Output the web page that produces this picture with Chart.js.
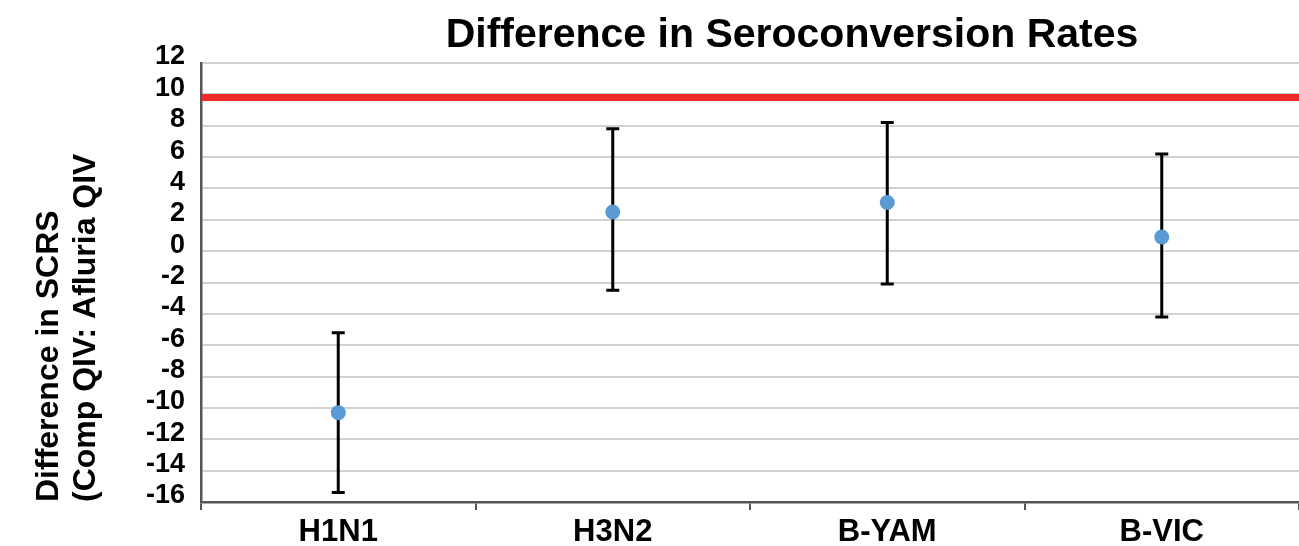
<!DOCTYPE html>
<html>
<head>
<meta charset="utf-8">
<script src="https://cdn.jsdelivr.net/npm/chart.js@4/dist/chart.umd.min.js"></script>
<style>
  html, body { margin: 0; padding: 0; background: #fff; overflow: hidden; }
  #wrap { position: relative; width: 1299px; height: 546px; }
  #title {
    position: absolute; top: 13px; left: 792px; transform: translateX(-50%);
    font: bold 41px "Liberation Sans", Arial, sans-serif; line-height: 40px;
    color: #000; white-space: nowrap;
  }
  canvas { position: absolute; left: 0; top: 0; }
</style>
</head>
<body>
<div id="wrap">
  <canvas id="c" width="1299" height="546"></canvas>
  <div id="title">Difference in Seroconversion Rates</div>
</div>
<script>
const categories = ['H1N1', 'H3N2', 'B-YAM', 'B-VIC'];
const differences = [-10.3, 2.5, 3.1, 0.9];
const lowerBounds = [-15.4, -2.5, -2.1, -4.2];
const upperBounds = [-5.2, 7.8, 8.2, 6.2];
const referenceLine = 9.8;
const yTickMin = -16;
const yTickMax = 12;
const yTickStep = 2;
const yTitleLines = ['Difference in SCRS', '(Comp QIV: Afluria QIV'];

const overlays = {
  id: 'overlays',
  beforeDatasetsDraw(chart) {
    const { ctx, chartArea, scales: { x, y } } = chart;
    ctx.save();
    // reference margin line
    const ry = y.getPixelForValue(referenceLine);
    ctx.strokeStyle = '#f02a2a';
    ctx.lineWidth = 7;
    ctx.beginPath();
    ctx.moveTo(chartArea.left + 1, ry);
    ctx.lineTo(chartArea.right, ry);
    ctx.stroke();
    // error bars
    ctx.strokeStyle = '#000';
    ctx.lineWidth = 3;
    const cap = 6.5;
    categories.forEach((c, i) => {
      const px = x.getPixelForValue(i);
      const pt = y.getPixelForValue(upperBounds[i]);
      const pb = y.getPixelForValue(lowerBounds[i]);
      ctx.beginPath();
      ctx.moveTo(px, pt); ctx.lineTo(px, pb);
      ctx.moveTo(px - cap, pt); ctx.lineTo(px + cap, pt);
      ctx.moveTo(px - cap, pb); ctx.lineTo(px + cap, pb);
      ctx.stroke();
    });
    ctx.restore();
  }
};

new Chart(document.getElementById('c'), {
  type: 'line',
  data: {
    labels: categories,
    datasets: [{
      data: differences,
      showLine: false,
      pointRadius: 7.5,
      pointHoverRadius: 7.5,
      pointBackgroundColor: '#5b9bd5',
      pointBorderColor: '#5b9bd5',
      pointBorderWidth: 0
    }]
  },
  options: {
    responsive: false,
    animation: false,
    layout: { autoPadding: false, padding: { top: 63, right: 0, left: 0, bottom: 0 } },
    plugins: {
      legend: { display: false },
      tooltip: { enabled: false },
      title: { display: false }
    },
    scales: {
      x: {
        offset: true,
        grid: {
          offset: true,
          drawOnChartArea: false,
          drawTicks: true,
          tickLength: 8,
          color: '#555',
          lineWidth: 2
        },
        border: { display: true, color: '#555', width: 2.5 },
        ticks: {
          color: '#000',
          padding: 4,
          font: { family: '"Liberation Sans", Arial, sans-serif', size: 31, weight: 'bold' }
        },
        afterFit(scale) { scale.height = 44; scale.paddingLeft = 0; scale.paddingRight = 0; }
      },
      y: {
        min: yTickMin,
        max: yTickMax,
        grid: { color: '#d2d2d2', lineWidth: 2, drawTicks: false },
        border: { display: true, color: '#555', width: 2.5 },
        ticks: {
          stepSize: yTickStep,
          autoSkip: false,
          color: '#000',
          padding: 16,
          labelOffset: -6,
          font: { family: '"Liberation Sans", Arial, sans-serif', size: 27, weight: 'bold' }
        },
        title: {
          display: true,
          text: yTitleLines,
          align: 'start',
          color: '#000',
          padding: { top: 30, bottom: 0 },
          font: { family: '"Liberation Sans", Arial, sans-serif', size: 32, weight: 'bold', lineHeight: 1.17 }
        },
        afterFit(scale) { scale.width = 201; }
      }
    }
  },
  plugins: [overlays]
});
</script>
</body>
</html>
